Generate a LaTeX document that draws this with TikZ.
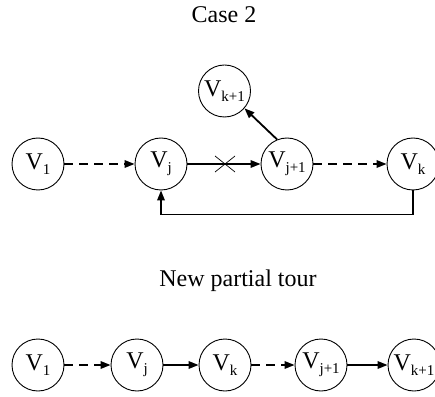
\documentclass[tikz,border=0pt]{standalone}
\usepackage{fontspec}
\setmainfont{Liberation Serif}
\usetikzlibrary{arrows.meta}
\newcommand{\vlab}[1]{V\raisebox{-5pt}{\fontsize{15}{15}\selectfont #1}}
\begin{document}
\begin{tikzpicture}[x=1pt,y=1pt,
  vert/.style={circle,draw,line width=0.9pt,minimum size=52pt,inner sep=0pt,font=\fontsize{24}{24}\selectfont},
  edge/.style={line width=1.8pt,-{Triangle[length=10pt,width=7.5pt]}},
  dedge/.style={edge,dash pattern=on 9pt off 6pt},
  ttl/.style={font=\fontsize{24}{24}\selectfont}]
\useasboundingbox (0,0) rectangle (435,396);
\clip (0,0) rectangle (435,396);
\node[ttl] (t1) at (224,381) {Case 2};
\node[vert] (a1) at (38,232) {\vlab{1}};
\node[vert] (aj) at (161,232) {\vlab{j}};
\node[vert] (aj1) at (287,232) {\vlab{j+1}};
\node[vert] (ak) at (413,232) {\vlab{k}};
\node[vert] (ak1) at (224.5,305) {\vlab{k+1}};
\draw[dedge] (a1) -- (aj);
\draw[edge] (aj) -- (aj1);
\draw[dedge] (aj1) -- (ak);
\draw[edge] (aj1.112) -- (ak1.-41);
\draw[edge] (ak.south) -- ++(0,-24) -| (aj.south);
\coordinate (x0) at (225,232);
\draw[line width=0.7pt] ([shift={(-10,-8)}]x0) -- ([shift={(10,8)}]x0)
  ([shift={(-10,8)}]x0) -- ([shift={(10,-8)}]x0);
\node[ttl] (t2) at (238,115) {New partial tour};
\node[vert] (b1) at (38,31) {\vlab{1}};
\node[vert] (bj) at (137,31) {\vlab{j}};
\node[vert] (bk) at (225,31) {\vlab{k}};
\node[vert] (bj1) at (321,31) {\vlab{j+1}};
\node[vert] (bk1) at (414,31) {\vlab{k+1}};
\draw[dedge] (b1) -- (bj);
\draw[edge] (bj) -- (bk);
\draw[dedge] (bk) -- (bj1);
\draw[edge] (bj1) -- (bk1);
\end{tikzpicture}
\end{document}
